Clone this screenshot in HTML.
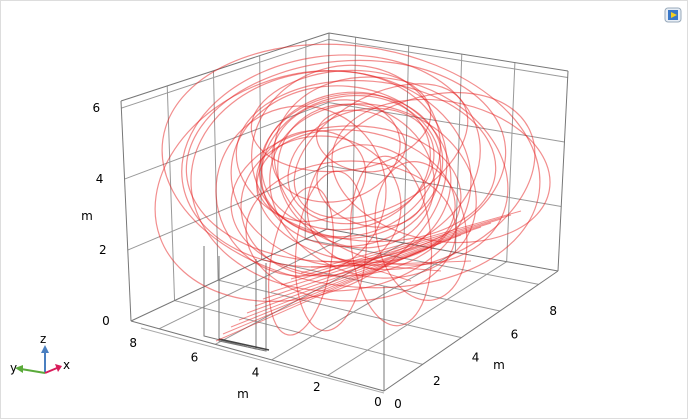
<!DOCTYPE html>
<html><head><meta charset="utf-8"><style>
html,body{margin:0;padding:0;background:#fff}
#wrap{position:relative;width:686px;height:417px;border:1px solid #ddd;overflow:hidden;font-family:"Liberation Sans","DejaVu Sans",sans-serif}
svg text{font-family:"DejaVu Sans","Liberation Sans",sans-serif;font-size:12px;fill:#000}
</style></head><body>
<div id="wrap">
<svg id="chart" width="686" height="417">
<g id="grid"></g>
<g stroke="#777" fill="none">
<polyline points="203,245 203,335 255,348 255,258"/>
<polyline points="218,255 218,340 265,350 265,262"/>
<line x1="218" y1="338" x2="268" y2="349" stroke="#444" stroke-width="1.5"/>
</g>
<g id="lines"></g>
<g id="labels"></g>
<g>
<line x1="44" y1="372" x2="44" y2="350" stroke="#4a7fc0" stroke-width="2"/><polygon points="40,352 48,352 44,344" fill="#4a7fc0"/>
<line x1="44" y1="372" x2="20" y2="368" stroke="#5aaa3a" stroke-width="2"/><polygon points="22,364 22,372 14,367" fill="#5aaa3a"/>
<line x1="44" y1="372" x2="56" y2="367" stroke="#d81b5a" stroke-width="2"/><polygon points="54,363 57,371 61,365" fill="#d81b5a"/>
<text x="39" y="342">z</text>
<text x="9" y="371">y</text>
<text x="62" y="368">x</text>
</g>
<g>
<rect x="664" y="7" width="16" height="14" rx="3" fill="#e8eef6" stroke="#9ab"/>
<rect x="667" y="9" width="10" height="10" fill="#3a78c8"/>
<polygon points="670,11 676,14 670,17" fill="#f4d020"/>
</g>
</svg>
</div>
<script>
// axis tick values
const xTicks=[0,2,4,6,8];
const yTicks=[0,2,4,6,8];
const zTicks=[0,2,4,6];
// streamline loops (screen-space ellipses): center x, center y, radius x, radius y, rotation deg
const loopCx=[350,340,360,330,370,345,355,300,390,335,365,320,380,350,310,420,345,360,330,372,300,440,350,340,345,355,330,390,300,420,350,345];
const loopCy=[170,175,165,180,185,160,195,190,170,150,160,205,150,165,175,180,200,140,160,190,185,170,230,120,150,175,250,240,260,230,165,160];
const loopRx=[90,110,75,140,55,160,100,85,120,65,130,80,95,190,55,120,115,45,150,105,150,110,105,90,95,80,35,40,30,45,92,85];
const loopRy=[75,90,55,110,40,100,65,85,90,50,80,70,55,120,45,80,75,30,105,85,110,70,70,50,85,70,80,85,75,70,72,68];
const loopRot=[-10,5,-20,0,15,-5,10,-25,20,-15,5,0,-30,8,-12,-25,-3,12,-8,18,-20,10,0,-6,-15,25,5,-5,10,-10,-8,-12];
// converging streamlines near floor: start x,y to end x,y
const strX1=[215,222,230,238,246,254,262,270,280,290,300,310,320,330];
const strY1=[340,333,326,319,312,305,298,291,284,278,272,266,260,255];
const strX2=[420,430,440,450,460,470,480,490,500,510,520,470,440,410];
const strY2=[250,246,242,238,234,230,226,222,218,214,210,260,270,280];

const F0=[383,390],F1=[383,130],R0=[557,270],R1=[567,70],L0=[130,320],L1=[120,100],B0=[326,228],B1=[328,32];
const M=9, ZM=6.2;
function mix(a,b,t){return [a[0]+(b[0]-a[0])*t,a[1]+(b[1]-a[1])*t];}
function P(x,y,z){const u=x/M,v=y/M,w=z/ZM;
 const bot=mix(mix(F0,R0,u),mix(L0,B0,u),v), top=mix(mix(F1,R1,u),mix(L1,B1,u),v);
 return mix(bot,top,w);}
const ns="http://www.w3.org/2000/svg";
function line(g,a,b,col,w,name){const l=document.createElementNS(ns,'line');
l.setAttribute('x1',a[0]);l.setAttribute('y1',a[1]);l.setAttribute('x2',b[0]);l.setAttribute('y2',b[1]);
l.setAttribute('stroke',col);l.setAttribute('stroke-width',w);


g.appendChild(l);}
function text(g,x,y,s,name){const t=document.createElementNS(ns,'text');t.setAttribute('x',x);t.setAttribute('y',y);t.setAttribute('text-anchor','middle');t.textContent=s;


g.appendChild(t);}
const G=document.getElementById('grid'), gc='#999';
[2,4,6,8].forEach(v=>{line(G,P(v,0,0),P(v,M,0),gc,1,'floor-grid-x');line(G,P(0,v,0),P(M,v,0),gc,1,'floor-grid-y');});
[2,4,6,8].forEach(v=>line(G,P(v,M,0),P(v,M,ZM),gc,1,'left-wall-grid-v'));
[2,4,6].forEach(v=>{line(G,P(0,M,v),P(M,M,v),gc,1,'left-wall-grid-h');line(G,P(M,0,v),P(M,M,v),gc,1,'right-wall-grid-h');});
[2,4,6,8].forEach(v=>line(G,P(M,v,0),P(M,v,ZM),gc,1,'right-wall-grid-v'));
const ec='#777';
[[P(0,0,0),P(M,0,0)],[P(0,0,0),P(0,M,0)],[P(0,M,0),P(M,M,0)],[P(M,0,0),P(M,M,0)],
 [P(0,M,0),P(0,M,ZM)],[P(M,M,0),P(M,M,ZM)],[P(M,0,0),P(M,0,ZM)],[P(0,0,0),P(0,0,2.5)],
 [P(0,M,ZM),P(M,M,ZM)],[P(M,0,ZM),P(M,M,ZM)]].forEach(e=>line(G,e[0],e[1],ec,1,'box-edge'));
line(G,[140,327],[383,392],'#aaa',1,'floor-front-edge');
const L=document.getElementById('labels');
zTicks.forEach(z=>{const p=P(0,M,z);text(L,p[0]-25,p[1]+4,String(z),'z-tick-'+z);});
yTicks.forEach(v=>{text(L,377-v*30.6,405-v*7.4,String(v),'y-tick-'+v);});
xTicks.forEach(v=>{text(L,397+v*19.4,407-v*11.6,String(v),'x-tick-'+v);});
text(L,86,219,'m','z-axis-title');text(L,242,397,'m','y-axis-title');text(L,498,368,'m','x-axis-title');
const S=document.getElementById('lines');
for(let i=0;i<loopCx.length;i++){const e=document.createElementNS(ns,'ellipse');
e.setAttribute('cx',loopCx[i]);e.setAttribute('cy',loopCy[i]);e.setAttribute('rx',loopRx[i]);e.setAttribute('ry',loopRy[i]);
e.setAttribute('transform','rotate('+loopRot[i]+' '+loopCx[i]+' '+loopCy[i]+')');
e.setAttribute('fill','none');e.setAttribute('stroke','rgba(230,30,30,0.5)');e.setAttribute('stroke-width','1.2');


S.appendChild(e);}
for(let i=0;i<strX1.length;i++){
line(S,[strX1[i],strY1[i]],[strX2[i],strY2[i]],'rgba(230,30,30,0.5)',1,'streamline-straight');}
</script>
</body></html>
